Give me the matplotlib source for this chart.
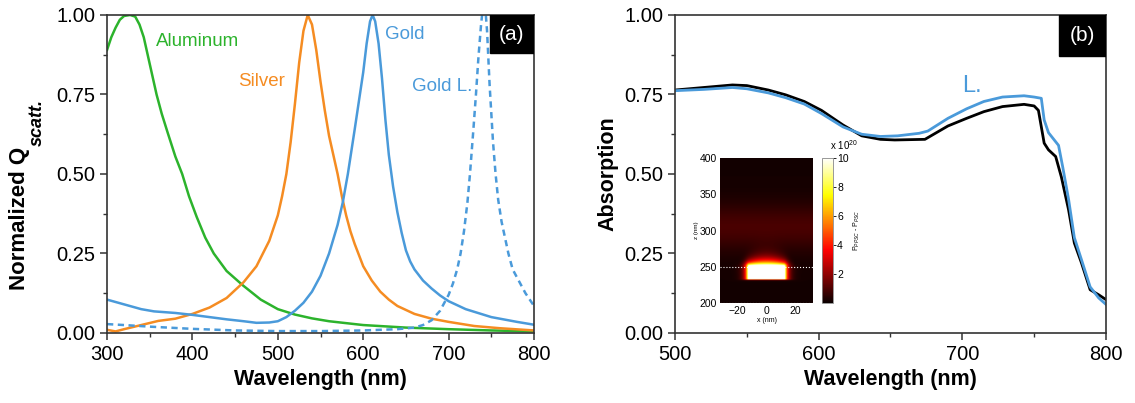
import matplotlib as mpl
mpl.use('Agg')
import matplotlib.pyplot as plt
import numpy as np

plt.rcParams['font.family'] = ['Liberation Sans', 'DejaVu Sans']
plt.rcParams['mathtext.fontset'] = 'custom'
plt.rcParams['mathtext.rm'] = 'Liberation Sans'
plt.rcParams['mathtext.it'] = 'Liberation Sans:italic'

# (a) normalized scattering spectra
wl_al = [300, 305, 310, 315, 320, 327, 333, 338, 343, 348, 353, 358, 364, 371, 380, 388,
         396, 405, 415, 425, 440, 459, 480, 500, 520, 540, 560, 600, 650, 700, 750, 800]
q_al = [0.89, 0.93, 0.96, 0.985, 0.997, 1.0, 0.995, 0.97, 0.93, 0.87, 0.81, 0.75, 0.69,
        0.63, 0.555, 0.50, 0.43, 0.365, 0.30, 0.25, 0.195, 0.15, 0.105, 0.075, 0.058,
        0.046, 0.037, 0.025, 0.017, 0.012, 0.008, 0.005]

wl_ag = [300, 310, 320, 340, 360, 380, 400, 420, 440, 460, 475, 490, 500, 505, 510, 515,
         520, 525, 530, 535, 540, 545, 550, 555, 560, 565, 570, 575, 580, 585, 590, 595,
         600, 610, 620, 630, 640, 660, 680, 700, 730, 760, 800]
q_ag = [0.01, 0.005, 0.012, 0.025, 0.038, 0.045, 0.06, 0.08, 0.11, 0.16, 0.21, 0.29,
        0.37, 0.43, 0.50, 0.60, 0.72, 0.85, 0.95, 1.0, 0.97, 0.89, 0.79, 0.70, 0.62,
        0.56, 0.50, 0.43, 0.37, 0.32, 0.28, 0.245, 0.21, 0.165, 0.13, 0.105, 0.085,
        0.06, 0.045, 0.035, 0.022, 0.015, 0.008]

wl_au = [300, 320, 340, 355, 380, 400, 420, 440, 460, 475, 490, 500, 510, 520, 530, 540,
         550, 560, 570, 576, 582, 590, 595, 600, 604, 608, 611, 614, 618, 622, 626, 630,
         635, 640, 645, 650, 655, 660, 670, 680, 690, 700, 720, 750, 780, 800]
q_au = [0.105, 0.09, 0.075, 0.068, 0.063, 0.057, 0.05, 0.043, 0.037, 0.032, 0.033, 0.037,
        0.05, 0.07, 0.095, 0.13, 0.18, 0.25, 0.34, 0.41, 0.50, 0.64, 0.73, 0.82, 0.91,
        0.98, 1.0, 0.98, 0.91, 0.80, 0.67, 0.56, 0.46, 0.38, 0.315, 0.26, 0.225, 0.20,
        0.165, 0.14, 0.118, 0.10, 0.075, 0.05, 0.035, 0.026]

wl_aul = [300, 320, 350, 400, 450, 500, 550, 600, 640, 660, 670, 680, 690, 700, 705, 710,
          714, 718, 722, 725, 729, 732, 735, 738, 740, 743, 745, 748, 752, 755, 758, 762,
          766, 770, 775, 780, 785, 790, 795, 800]
q_aul = [0.028, 0.025, 0.02, 0.013, 0.008, 0.006, 0.006, 0.008, 0.012, 0.017, 0.025, 0.04,
         0.07, 0.12, 0.155, 0.2, 0.25, 0.32, 0.41, 0.5, 0.64, 0.75, 0.87, 0.97, 1.02,
         1.02, 0.95, 0.78, 0.6, 0.5, 0.42, 0.35, 0.3, 0.25, 0.2, 0.175, 0.15, 0.125,
         0.105, 0.085]

# (b) absorption
wl_b = [500, 520, 540, 550, 565, 577, 590, 602, 617, 630, 643, 653, 674, 690, 703, 715,
        728, 743, 750, 753, 757, 760, 765, 769, 774, 778, 783, 789, 795, 800]
abs_k = [0.764, 0.772, 0.78, 0.778, 0.764, 0.749, 0.728, 0.70, 0.654, 0.62, 0.609, 0.607,
         0.609, 0.651, 0.675, 0.696, 0.712, 0.719, 0.714, 0.70, 0.597, 0.576, 0.555, 0.49,
         0.387, 0.283, 0.22, 0.136, 0.12, 0.105]
wl_bl = [500, 520, 540, 550, 565, 577, 590, 602, 617, 630, 643, 655, 670, 676, 690, 703,
         715, 728, 743, 750, 755, 757, 760, 767, 770, 774, 778, 783, 789, 795, 800]
abs_l = [0.762, 0.766, 0.772, 0.768, 0.755, 0.74, 0.72, 0.69, 0.648, 0.625, 0.618, 0.62,
         0.628, 0.635, 0.675, 0.705, 0.728, 0.742, 0.746, 0.742, 0.738, 0.67, 0.63, 0.59,
         0.52, 0.42, 0.30, 0.23, 0.145, 0.11, 0.09]

green = '#2cb32c'
orange = '#f58c22'
blue = '#4a9ada'

fig = plt.figure(figsize=(11.35, 4.03), dpi=100)
ax1 = fig.add_axes([0.0943, 0.1737, 0.3762, 0.7891])
ax2 = fig.add_axes([0.5947, 0.1737, 0.3797, 0.7891])


def style_axis(ax):
    for s in ax.spines.values():
        s.set_color('#333333')
        s.set_linewidth(1.2)
    ax.tick_params(which='major', direction='out', length=5, width=1.1, color='#333333',
                   labelsize=14.5, top=False, right=False)
    ax.tick_params(which='minor', direction='out', length=3, width=1.0, color='#333333',
                   top=False, right=False)
    ax.set_ylim(0, 1)
    ax.set_yticks([0, 0.25, 0.5, 0.75, 1.0])
    ax.set_yticks([0.125, 0.375, 0.625, 0.875], minor=True)
    ax.set_yticklabels(['0.00', '0.25', '0.50', '0.75', '1.00'])
    ax.set_xlabel('Wavelength (nm)', fontsize=15.5, fontweight='bold')


ax1.plot(wl_al, q_al, color=green, lw=1.8)
ax1.plot(wl_ag, q_ag, color=orange, lw=1.8)
ax1.plot(wl_au, q_au, color=blue, lw=1.8)
ax1.plot(wl_aul, q_aul, color=blue, lw=1.8, ls=(0, (2.5, 1.8)))
ax1.set_xlim(300, 800)
ax1.set_xticks([300, 400, 500, 600, 700, 800])
ax1.set_xticks([350, 450, 550, 650, 750], minor=True)
style_axis(ax1)
ax1.text(357, 0.916, 'Aluminum', color=green, fontsize=13.5, va='center')
ax1.text(454, 0.79, 'Silver', color=orange, fontsize=13.5, va='center')
ax1.text(626, 0.939, 'Gold', color=blue, fontsize=13.5, va='center')
ax1.text(657, 0.776, 'Gold L.', color=blue, fontsize=13.5, va='center')
ax1.add_patch(plt.Rectangle((0.897, 0.88), 0.103, 0.12, transform=ax1.transAxes,
                            color='black', zorder=5))
ax1.text(0.948, 0.94, '(a)', transform=ax1.transAxes, color='white', fontsize=15,
         ha='center', va='center', zorder=6)

ax2.plot(wl_b, abs_k, color='black', lw=2.0)
ax2.plot(wl_bl, abs_l, color=blue, lw=2.0)
ax2.set_xlim(500, 800)
ax2.set_xticks([500, 600, 700, 800])
ax2.set_xticks([550, 650, 750], minor=True)
style_axis(ax2)
ax2.set_ylabel('Absorption', fontsize=15.5, fontweight='bold')
ax2.text(700, 0.777, 'L.', color=blue, fontsize=17, va='center')
ax2.add_patch(plt.Rectangle((0.891, 0.871), 0.109, 0.129, transform=ax2.transAxes,
                            color='black', zorder=5))
ax2.text(0.9455, 0.935, '(b)', transform=ax2.transAxes, color='white', fontsize=15,
         ha='center', va='center', zorder=6)

# y label of (a): "Normalized Q" with a large bold-italic "scatt." subscript
W, H = 1135.0, 403.0
t1 = fig.text(20 / W, (H - 290) / H, 'Normalized Q', rotation=90, fontsize=16,
              fontweight='bold', ha='center', va='bottom')
fig.canvas.draw()
bb = t1.get_window_extent()
fig.text(37 / W, (bb.y1 + 1) / H, 'scatt.', rotation=90, fontsize=13,
         fontweight='bold', fontstyle='italic', ha='center', va='bottom')

# inset: power density map around the particle
xs = np.linspace(-32, 32, 260)
zs = np.linspace(200, 400, 600)
X, Z = np.meshgrid(xs, zs)
dx = np.clip(np.abs(X) - 12, 0, None)
dz_top = np.clip(Z - 250, 0, None)
dz_bot = np.clip(233 - Z, 0, None)
top_len = 7.0 * np.clip(1 - (X / 22.0) ** 2, 0.15, None)
halo = 14 * np.exp(-np.sqrt((dx / 2.0) ** 2 + (dz_top / top_len) ** 2 + (dz_bot / 0.6) ** 2))
band = 0.8 * np.exp(-((Z - 305) / 32.0) ** 2)
field = 0.15 + band + halo

axi = fig.add_axes([0.6344, 0.2481, 0.0819, 0.3598])
im = axi.imshow(field, extent=[-32, 32, 200, 400], origin='lower', aspect='auto',
                cmap='hot', vmin=0, vmax=10, interpolation='bilinear')
axi.axhline(250, color='white', ls=':', lw=0.8)
axi.axhline(200.6, color='white', ls=':', lw=0.8)
axi.set_xticks([-20, 0, 20])
axi.set_yticks([200, 250, 300, 350, 400])
axi.tick_params(labelsize=7.5, length=0, pad=2)
axi.set_xlabel('x (nm)', fontsize=5, labelpad=1)
axi.set_ylabel('z (nm)', fontsize=4.5, labelpad=1)
for s in axi.spines.values():
    s.set_visible(False)

cax = fig.add_axes([0.7242, 0.2481, 0.0097, 0.3598])
cb = fig.colorbar(im, cax=cax, ticks=[2, 4, 6, 8, 10])
cb.ax.tick_params(labelsize=7.5, length=2, width=0.6, pad=1)
cb.outline.set_edgecolor('#888888')
cb.outline.set_linewidth(0.6)
cb.set_label(r'P$_{PPSC}$ - P$_{PSC}$', fontsize=5, labelpad=2)
cax.text(0.7, 1.04, r'x 10$^{20}$', transform=cax.transAxes, fontsize=7,
         ha='left', va='bottom')

fig.savefig('out.png', dpi=100)
